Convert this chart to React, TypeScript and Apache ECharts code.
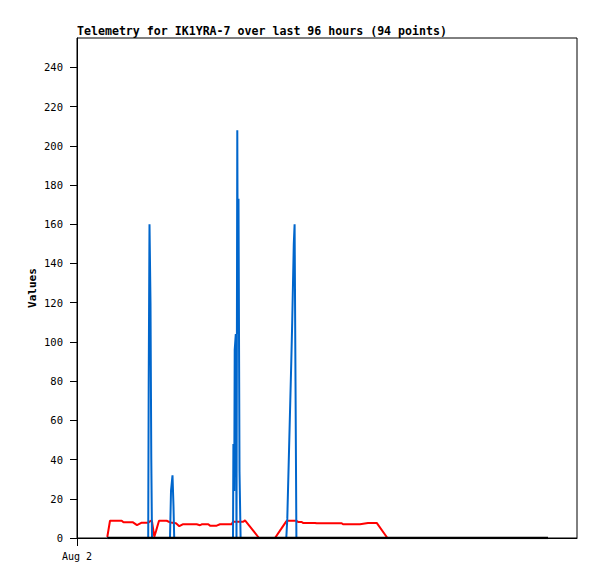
import React, { useEffect, useRef } from "react";
import * as echarts from "echarts";

// hours since Aug 2 00:00
const times = [
  1.454, 1.584, 1.872, 2.146, 2.232, 2.448, 2.688, 2.88, 3.106, 3.264,
  3.418, 3.442, 3.48, 3.528, 3.566, 3.6, 3.71,
  3.792, 3.936, 4.128, 4.306, 4.464,
  4.512, 4.584, 4.632, 4.666, 4.752, 4.91,
  5.074, 5.328, 5.746, 5.904, 5.986, 6.302, 6.384, 6.706, 6.864, 7.152, 7.426,
  7.488, 7.507, 7.546, 7.57, 7.622, 7.656, 7.694, 7.723, 7.752, 7.8, 7.853, 7.982,
  8.064, 8.4, 8.736, 9.12, 9.504, 9.792, 10.046,
  10.094, 10.142, 10.19, 10.238, 10.286, 10.33, 10.368, 10.406, 10.445, 10.488, 10.531,
  10.608, 10.786, 10.848, 11.424, 11.506, 12.144, 12.706, 12.768, 13.2, 13.584, 13.968, 14.386,
  14.9, 15.4, 15.984, 16.7, 17.424, 18.1, 18.864, 19.6, 20.304, 21.0, 21.504, 22.1, 22.608,
];

const redValues = [
  0.5, 8.8, 8.8, 8.8, 8.0, 8.0, 8.0, 6.6, 7.8, 7.8,
  7.8, 8.0, 8.3, 8.6, 8.8, 8.5, 0.7,
  3.5, 8.8, 8.8, 8.8, 8.0,
  7.9, 7.8, 7.7, 7.6, 7.5, 6.0,
  7.0, 7.0, 7.0, 6.5, 7.0, 7.0, 6.3, 6.3, 7.0, 7.0, 7.0,
  8.3, 8.3, 8.3, 8.3, 8.3, 8.3, 8.3, 8.3, 8.3, 8.3, 8.3, 8.3,
  9.0, 4.5, 0, 0, 0, 4.5, 8.5,
  8.8, 8.8, 8.8, 8.8, 8.8, 8.8, 8.8, 8.8, 8.8, 8.8, 8.8,
  8.2, 8.2, 7.7, 7.7, 7.5, 7.5, 7.5, 7.0, 7.0, 7.0, 7.7, 7.7,
  0, 0, 0, 0, 0, 0, 0, 0, 0, 0, 0, 0, 0,
];

const blueValues = [
  0, 0, 0, 0, 0, 0, 0, 0, 0, 0,
  0, 80, 160, 120, 40, 0, 0,
  0, 0, 0, 0, 0,
  24, 32, 16, 0, 0, 0,
  0, 0, 0, 0, 0, 0, 0, 0, 0, 0, 0,
  0, 48, 24, 96, 104, 0, 208, 104, 173, 34, 0, 0,
  0, 0, 0, 0, 0, 0, 0,
  10, 30, 50, 70, 90, 110, 130, 150, 160, 80, 0,
  0, 0, 0, 0, 0, 0, 0, 0, 0, 0, 0, 0,
  0, 0, 0, 0, 0, 0, 0, 0, 0, 0, 0, 0, 0,
];

const blackValues = times.map(() => 0);

const yTicks = [0, 20, 40, 60, 80, 100, 120, 140, 160, 180, 200, 220, 240];
const xTicks = [0];
const xTickLabels = ["Aug 2"];

const MONO = "'DejaVu Sans Mono', monospace";

export default function App() {
  const ref = useRef<HTMLDivElement>(null);
  useEffect(() => {
    if (!ref.current) return;
    const chart = echarts.init(ref.current, undefined, { renderer: "svg" });
    const zip = (vals: number[]) => times.map((t, i) => [t, vals[i]]);
    chart.setOption({
      animation: false,
      backgroundColor: "#fff",
      title: {
        text: "Telemetry for IK1YRA-7 over last 96 hours (94 points)",
        left: 77,
        top: 25,
        padding: 0,
        textStyle: { fontFamily: MONO, fontSize: 11.6, fontWeight: "bold", color: "#000" },
      },
      grid: {
        left: 77,
        top: 38,
        width: 500,
        height: 500,
        show: true,
        borderColor: "#000",
        borderWidth: 1,
        backgroundColor: "#fff",
      },
      xAxis: {
        type: "value",
        min: 0,
        max: 24,
        axisLine: { show: true, lineStyle: { color: "#000", width: 1 } },
        axisTick: { show: true, length: 8, customValues: xTicks, lineStyle: { color: "#000" } },
        axisLabel: {
          customValues: xTicks,
          formatter: (v: number) => xTickLabels[xTicks.indexOf(v)] ?? "",
          margin: 13,
          fontFamily: MONO,
          fontSize: 10,
          color: "#000",
        },
        splitLine: { show: false },
      },
      yAxis: {
        type: "value",
        min: 0,
        max: 255,
        interval: 20,
        name: "Values",
        nameLocation: "middle",
        nameGap: 39,
        nameMoveOverlap: false,
        nameTextStyle: { fontFamily: MONO, fontSize: 11, fontWeight: "bold", color: "#000" },
        axisLine: { show: true, lineStyle: { color: "#000", width: 1 } },
        axisTick: { show: true, length: 7, customValues: yTicks, lineStyle: { color: "#000" } },
        axisLabel: {
          customValues: yTicks,
          margin: 14,
          fontFamily: MONO,
          fontSize: 10.5,
          color: "#000",
        },
        splitLine: { show: false },
      },
      series: [
        {
          type: "line",
          data: zip(redValues),
          showSymbol: false,
          lineStyle: { color: "#ff0000", width: 2 },
          itemStyle: { color: "#ff0000" },
        },
        {
          type: "line",
          data: zip(blueValues),
          showSymbol: false,
          lineStyle: { color: "#0066cc", width: 2 },
          itemStyle: { color: "#0066cc" },
        },
        {
          type: "line",
          data: zip(blackValues),
          showSymbol: false,
          lineStyle: { color: "#000000", width: 2.5 },
          itemStyle: { color: "#000000" },
        },
      ],
    });
    return () => chart.dispose();
  }, []);
  return (
    <div
      ref={ref}
      style={{ position: "absolute", left: 0, top: 0, width: 597, height: 579, background: "#fff" }}
    />
  );
}
